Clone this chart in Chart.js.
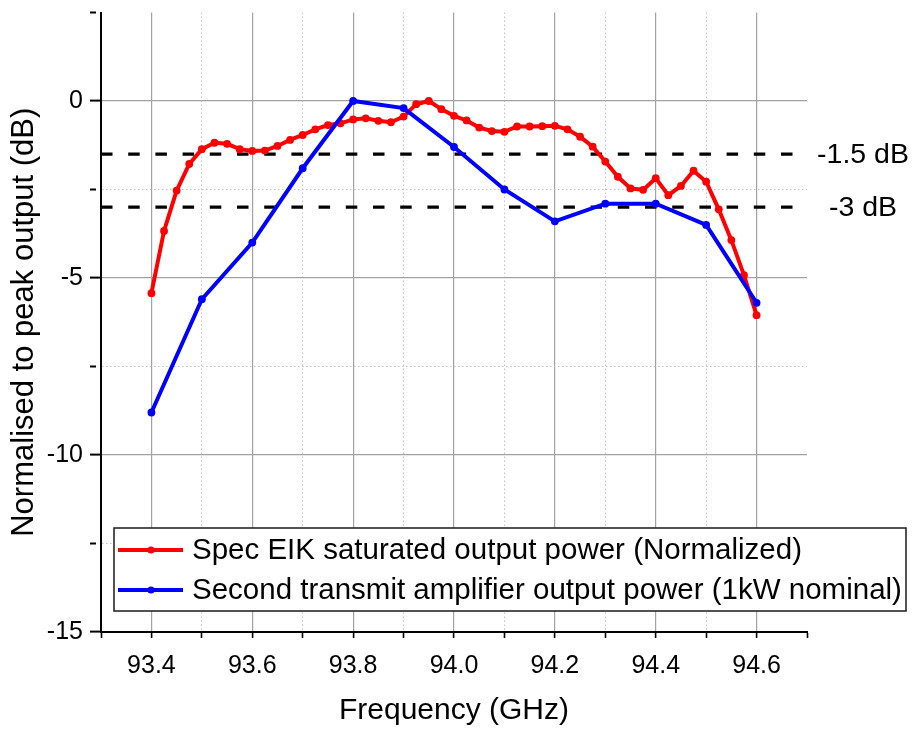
<!DOCTYPE html>
<html>
<head>
<meta charset="utf-8">
<script src="https://cdn.jsdelivr.net/npm/chart.js@4.4.0/dist/chart.umd.min.js"></script>
<style>
  html, body { margin: 0; padding: 0; background: #ffffff; }
  #wrap { width: 915px; height: 729px; }
</style>
</head>
<body>
<div id="wrap"><canvas id="c" width="915" height="729"></canvas></div>
<script>
// Spec EIK saturated output power, normalised (dB), sampled every 25 MHz
const eikFreq = [
  93.400, 93.425, 93.450, 93.475, 93.500, 93.525, 93.550, 93.575, 93.600, 93.625,
  93.650, 93.675, 93.700, 93.725, 93.750, 93.775, 93.800, 93.825, 93.850, 93.875,
  93.900, 93.925, 93.950, 93.975, 94.000, 94.025, 94.050, 94.075, 94.100, 94.125,
  94.150, 94.175, 94.200, 94.225, 94.250, 94.275, 94.300, 94.325, 94.350, 94.375,
  94.400, 94.425, 94.450, 94.475, 94.500, 94.525, 94.550, 94.575, 94.600
];
const eikPower = [
  -5.43, -3.67, -2.53, -1.78, -1.36, -1.18, -1.21, -1.36, -1.41, -1.40,
  -1.27, -1.10, -0.96, -0.80, -0.68, -0.63, -0.52, -0.49, -0.56, -0.60,
  -0.44, -0.09,  0.00, -0.23, -0.42, -0.55, -0.75, -0.85, -0.87, -0.72,
  -0.72, -0.71, -0.70, -0.80, -1.01, -1.29, -1.71, -2.14, -2.47, -2.51,
  -2.18, -2.66, -2.40, -1.97, -2.28, -3.06, -3.93, -4.92, -6.05
];

// Second transmit amplifier output power (dB), sampled every 100 MHz
const ampFreq  = [93.4, 93.5, 93.6, 93.7, 93.8, 93.9, 94.0, 94.1, 94.2, 94.3, 94.4, 94.5, 94.6];
const ampPower = [-8.8, -5.6, -4.0, -1.9, 0.0, -0.2, -1.3, -2.5, -3.4, -2.9, -2.9, -3.5, -5.7];

// Reference levels
const refLevels = [-1.5, -3];
const refLabels = ['-1.5 dB', '-3 dB'];
const refSpan = [93.3, 94.672];

// Axes
const freqTicks = [93.3, 93.4, 93.5, 93.6, 93.7, 93.8, 93.9, 94.0, 94.1, 94.2, 94.3, 94.4, 94.5, 94.6, 94.7];
const freqTickLabels = ['93.4', '93.6', '93.8', '94.0', '94.2', '94.4', '94.6'];
const levelTicks = [2.5, 0, -2.5, -5, -7.5, -10, -12.5, -15];
const levelTickLabels = ['0', '-5', '-10', '-15'];

const seriesNames = [
  'Spec EIK saturated output power (Normalized)',
  'Second transmit amplifier output power (1kW nominal)'
];

const FONT = "'Liberation Sans', Arial, Helvetica, sans-serif";
Chart.defaults.font.family = FONT;
Chart.defaults.color = '#000000';

const xMin = freqTicks[0], xMax = freqTicks[freqTicks.length - 1];
const yMin = levelTicks[levelTicks.length - 1], yMax = levelTicks[0];

const freqText = v => Number(v).toFixed(1);
const levelText = v => String(Math.round(v * 10) / 10);
const freqMajor = v => freqTickLabels.includes(freqText(v));
const levelMajor = v => levelTickLabels.includes(levelText(v));

const GRID_MAJOR = '#a2a2a2';
const GRID_MINOR = '#c6c6c6';
const CLEAR = 'rgba(0,0,0,0)';

const datasets = [
  {
    label: seriesNames[0],
    data: eikFreq.map((f, i) => ({ x: f, y: eikPower[i] })),
    borderColor: '#ff0000',
    backgroundColor: '#ff0000',
    borderWidth: 4,
    pointRadius: 3.9,
    pointBorderWidth: 0,
    pointBackgroundColor: '#ff0000',
    tension: 0,
    order: 2
  },
  {
    label: seriesNames[1],
    data: ampFreq.map((f, i) => ({ x: f, y: ampPower[i] })),
    borderColor: '#0000ff',
    backgroundColor: '#0000ff',
    borderWidth: 4,
    pointRadius: 3.9,
    pointBorderWidth: 0,
    pointBackgroundColor: '#0000ff',
    tension: 0,
    order: 1
  }
];
refLevels.forEach((lvl, i) => {
  datasets.push({
    label: refLabels[i],
    data: refSpan.map(f => ({ x: f, y: lvl })),
    borderColor: '#000000',
    borderWidth: 3.2,
    borderDash: [11.5, 15.7],
    pointRadius: 0,
    order: 3,
    isReference: true
  });
});

// Reference labels beside the dashed lines, and the boxed legend
const overlay = {
  id: 'overlay',
  afterDatasetsDraw(chart) {
    const { ctx, chartArea } = chart;
    const y = chart.scales.y;
    ctx.save();
    ctx.font = '28.5px ' + FONT;
    ctx.fillStyle = '#000';
    ctx.textAlign = 'center';
    ctx.textBaseline = 'middle';
    refLevels.forEach((lvl, i) => {
      ctx.fillText(refLabels[i], chartArea.right + 56, y.getPixelForValue(lvl) + 1);
    });
    ctx.restore();
  },
  afterDraw(chart) {
    const { ctx, chartArea } = chart;
    const left = chartArea.left + 13;
    const top = chartArea.bottom - 104;
    const right = chartArea.right + 99;
    const bottom = chartArea.bottom - 21;
    ctx.save();
    ctx.fillStyle = '#ffffff';
    ctx.fillRect(left, top, right - left, bottom - top);
    ctx.strokeStyle = '#1a1a1a';
    ctx.lineWidth = 1.5;
    ctx.strokeRect(left, top, right - left, bottom - top);
    const items = chart.data.datasets.filter(d => !d.isReference);
    ctx.font = '29.5px ' + FONT;
    ctx.textBaseline = 'middle';
    ctx.textAlign = 'left';
    items.forEach((d, i) => {
      const cy = top + 22 + i * 40;
      ctx.strokeStyle = d.borderColor;
      ctx.lineWidth = 4;
      ctx.beginPath();
      ctx.moveTo(left + 4, cy);
      ctx.lineTo(left + 69, cy);
      ctx.stroke();
      ctx.fillStyle = d.borderColor;
      ctx.beginPath();
      ctx.arc(left + 37, cy, 3.6, 0, Math.PI * 2);
      ctx.fill();
      ctx.fillStyle = '#000';
      ctx.fillText(d.label, left + 78, cy + 1);
    });
    ctx.restore();
  }
};

new Chart(document.getElementById('c'), {
  type: 'line',
  data: { datasets },
  plugins: [overlay],
  options: {
    responsive: false,
    animation: false,
    events: [],
    layout: { padding: { top: 12.5, right: 108, bottom: 0, left: 0 } },
    plugins: { legend: { display: false }, tooltip: { enabled: false } },
    scales: {
      x: {
        type: 'linear',
        min: xMin,
        max: xMax,
        afterFit: s => { s.height = 97; s.paddingLeft = 0; s.paddingRight = 0; },
        afterBuildTicks: s => { s.ticks = freqTicks.map(v => ({ value: v })); },
        ticks: {
          autoSkip: false,
          maxRotation: 0,
          padding: 13,
          font: { size: 25 },
          color: '#000',
          callback: v => (freqMajor(v) ? freqText(v) : '')
        },
        grid: {
          color: c => (c.type !== 'tick' || c.tick.value <= xMin + 1e-6 || c.tick.value >= xMax - 1e-6)
            ? CLEAR : (freqMajor(c.tick.value) ? GRID_MAJOR : GRID_MINOR),
          lineWidth: c => (c.type === 'tick' && freqMajor(c.tick.value)) ? 1.2 : 1,
          tickColor: '#000',
          tickWidth: 1.6,
          tickLength: 6
        },
        border: {
          color: '#000',
          width: 2,
          dash: c => (c.type === 'tick' && !freqMajor(c.tick.value)) ? [1.5, 2.5] : []
        },
        title: {
          display: true,
          text: 'Frequency (GHz)',
          font: { size: 30 },
          color: '#000',
          padding: { top: 0, bottom: 0 }
        }
      },
      y: {
        type: 'linear',
        min: yMin,
        max: yMax,
        afterFit: s => { s.width = 101; s.paddingTop = 0; s.paddingBottom = 0; },
        afterBuildTicks: s => { s.ticks = levelTicks.map(v => ({ value: v })); },
        ticks: {
          autoSkip: false,
          padding: 7,
          font: { size: 25 },
          color: '#000',
          callback: v => (levelMajor(v) ? levelText(v) : '')
        },
        grid: {
          color: c => (c.type !== 'tick' || c.tick.value <= yMin + 1e-6 || c.tick.value >= yMax - 1e-6)
            ? CLEAR : (levelMajor(c.tick.value) ? GRID_MAJOR : GRID_MINOR),
          lineWidth: c => (c.type === 'tick' && levelMajor(c.tick.value)) ? 1.2 : 1,
          tickColor: '#000',
          tickWidth: 2,
          tickLength: 11,
          tickBorderDash: c => (c.type === 'tick' && !levelMajor(c.tick.value)) ? [6, 60] : []
        },
        border: {
          color: '#000',
          width: 2,
          dash: c => (c.type === 'tick' && !levelMajor(c.tick.value)) ? [1.5, 2.5] : []
        },
        title: {
          display: true,
          text: 'Normalised to peak output (dB)',
          font: { size: 31 },
          color: '#000',
          padding: { top: 6, bottom: 0 }
        }
      }
    }
  }
});
</script>
</body>
</html>
